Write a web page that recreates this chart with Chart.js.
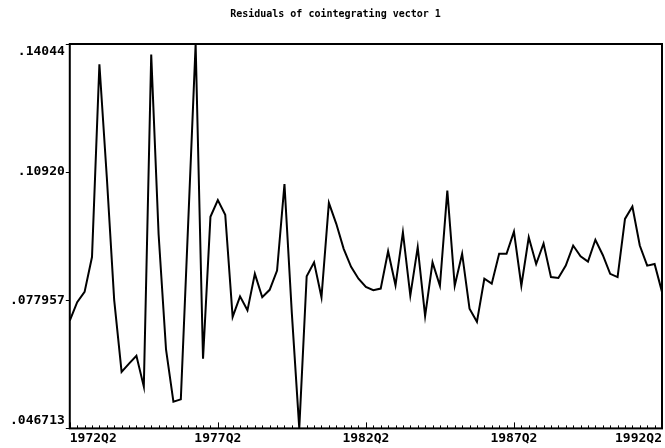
<!DOCTYPE html>
<html>
<head>
<meta charset="utf-8">
<script src="https://cdn.jsdelivr.net/npm/chart.js@4/dist/chart.umd.min.js"></script>
<style>
  html, body { margin: 0; padding: 0; background: #ffffff; }
  #wrap { width: 665px; height: 448px; }
</style>
</head>
<body>
<div id="wrap"><canvas id="c" width="665" height="448"></canvas></div>
<script>
// ---- data ----
const quarters = [
  '1972Q2','1972Q3','1972Q4',
  '1973Q1','1973Q2','1973Q3','1973Q4',
  '1974Q1','1974Q2','1974Q3','1974Q4',
  '1975Q1','1975Q2','1975Q3','1975Q4',
  '1976Q1','1976Q2','1976Q3','1976Q4',
  '1977Q1','1977Q2','1977Q3','1977Q4',
  '1978Q1','1978Q2','1978Q3','1978Q4',
  '1979Q1','1979Q2','1979Q3','1979Q4',
  '1980Q1','1980Q2','1980Q3','1980Q4',
  '1981Q1','1981Q2','1981Q3','1981Q4',
  '1982Q1','1982Q2','1982Q3','1982Q4',
  '1983Q1','1983Q2','1983Q3','1983Q4',
  '1984Q1','1984Q2','1984Q3','1984Q4',
  '1985Q1','1985Q2','1985Q3','1985Q4',
  '1986Q1','1986Q2','1986Q3','1986Q4',
  '1987Q1','1987Q2','1987Q3','1987Q4',
  '1988Q1','1988Q2','1988Q3','1988Q4',
  '1989Q1','1989Q2','1989Q3','1989Q4',
  '1990Q1','1990Q2','1990Q3','1990Q4',
  '1991Q1','1991Q2','1991Q3','1991Q4',
  '1992Q1','1992Q2'
];

const residuals = [
  0.0730, 0.0775, 0.0800, 0.0885, 0.1355, 0.1080, 0.0780, 0.0605, 0.0625, 0.0644,
  0.0569, 0.1379, 0.0940, 0.0660, 0.0532, 0.0538, 0.0970, 0.14044, 0.0637, 0.0983,
  0.1024, 0.0988, 0.0739, 0.0789, 0.0755, 0.0844, 0.0787, 0.0805, 0.0852, 0.1063,
  0.0747, 0.046713, 0.0838, 0.0872, 0.0787, 0.1017, 0.0966, 0.0905, 0.0861, 0.0832,
  0.0812, 0.0804, 0.0808, 0.0899, 0.0816, 0.0945, 0.0791, 0.0909, 0.0741, 0.0872,
  0.0815, 0.1047, 0.0815, 0.0893, 0.0759, 0.0727, 0.0832, 0.0820, 0.0893, 0.0893,
  0.0947, 0.0815, 0.0933, 0.0868, 0.0918, 0.0836, 0.0834, 0.0864, 0.0913, 0.0887,
  0.0874, 0.0927, 0.0890, 0.0844, 0.0836, 0.0978, 0.1008, 0.0913, 0.0864, 0.0868,
  0.0800
];

const xTickLabels = ['1972Q2', '1977Q2', '1982Q2', '1987Q2', '1992Q2'];
const yTickValues = [0.046713, 0.077957, 0.10920, 0.14044];
const yTickLabels = ['.046713', '.077957', '.10920', '.14044'];
const chartTitle = 'Residuals of cointegrating vector 1';

// ---- drawing ----
const MONO = "'DejaVu Sans Mono', 'Liberation Mono', monospace";

const framePlugin = {
  id: 'frame',
  afterDatasetsDraw(chart) {
    const { ctx, chartArea: a, scales: { x } } = chart;
    ctx.save();
    ctx.strokeStyle = '#000';
    ctx.lineWidth = 2;
    ctx.strokeRect(a.left, a.top, a.right - a.left, a.bottom - a.top);
    ctx.lineWidth = 1;
    ctx.beginPath();
    quarters.forEach((q, i) => {
      const px = Math.round(x.getPixelForValue(i)) + 0.5;
      const len = xTickLabels.includes(q) ? 6 : 3;
      ctx.moveTo(px, a.bottom);
      ctx.lineTo(px, a.bottom - len);
    });
    ctx.stroke();
    ctx.restore();
  }
};

new Chart(document.getElementById('c'), {
  type: 'line',
  data: {
    labels: quarters,
    datasets: [{
      data: residuals,
      borderColor: '#000',
      borderWidth: 2,
      pointRadius: 0,
      tension: 0,
      fill: false
    }]
  },
  options: {
    responsive: false,
    animation: false,
    layout: { padding: { left: 9, right: 3, top: 0, bottom: 0 } },
    plugins: {
      legend: { display: false },
      tooltip: { enabled: false },
      title: {
        display: true,
        text: chartTitle,
        color: '#000',
        font: { family: MONO, size: 10, weight: 'bold', lineHeight: 1.2 },
        padding: { top: 8, bottom: 24 }
      }
    },
    scales: {
      x: {
        type: 'category',
        offset: false,
        grid: { display: false, drawTicks: false },
        border: { display: false },
        ticks: {
          autoSkip: false,
          maxRotation: 0,
          minRotation: 0,
          align: 'inner',
          padding: 2,
          color: '#000',
          font: { family: MONO, size: 13, weight: 'bold', lineHeight: 1.2 },
          callback: function (value, index) {
            const q = quarters[index];
            return xTickLabels.includes(q) ? q : '';
          }
        }
      },
      y: {
        min: yTickValues[0],
        max: yTickValues[yTickValues.length - 1],
        afterBuildTicks: (scale) => {
          scale.ticks = yTickValues.map(v => ({ value: v }));
        },
        grid: {
          display: true,
          drawOnChartArea: false,
          drawTicks: true,
          tickLength: 4,
          color: '#000',
          lineWidth: 1
        },
        border: { display: false },
        ticks: {
          padding: 1,
          color: '#000',
          font: { family: MONO, size: 13, weight: 'bold', lineHeight: 1.2 },
          callback: function (value, index, ticks) {
            const i = yTickValues.indexOf(value);
            const lbl = i >= 0 ? yTickLabels[i] : '';
            if (index === 0) return [lbl, ''];
            if (index === ticks.length - 1) return ['', lbl];
            return lbl;
          }
        }
      }
    }
  },
  plugins: [framePlugin]
});
</script>
</body>
</html>
